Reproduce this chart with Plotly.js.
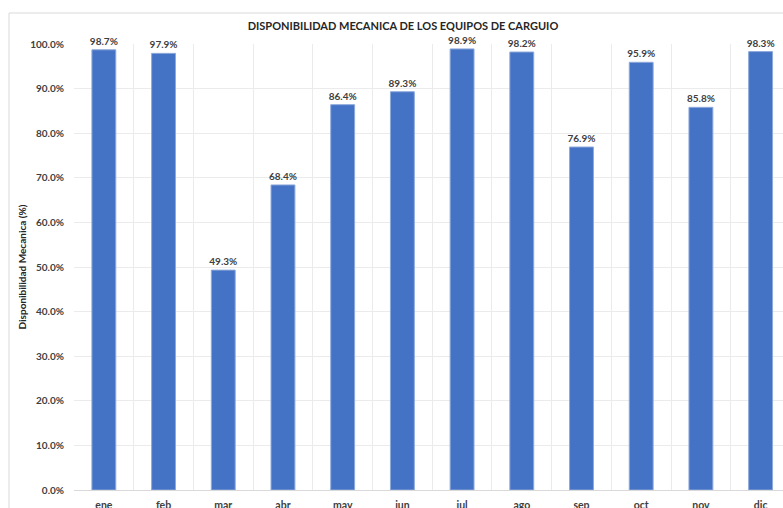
<!DOCTYPE html>
<html>
<head>
<meta charset="utf-8">
<script src="https://cdn.plot.ly/plotly-3.0.1.min.js"></script>
<style>
html,body{margin:0;padding:0;background:#fff;}
#chart{width:783px;height:508px;}
</style>
</head>
<body>
<div id="chart"></div>
<script>
const months = ["ene","feb","mar","abr","may","jun","jul","ago","sep","oct","nov","dic"];
const availabilityPct = [98.7, 97.9, 49.3, 68.4, 86.4, 89.3, 98.9, 98.2, 76.9, 95.9, 85.8, 98.3];
const yTickVals = [0,0.1,0.2,0.3,0.4,0.5,0.6,0.7,0.8,0.9,1.0];
const chartTitle = "DISPONIBILIDAD MECANICA DE LOS EQUIPOS DE CARGUIO";
const yTitle = "Disponibilidad Mecanica (%)";

const FONT = "Lato, 'Open Sans', sans-serif";
const trace = {
  type: "bar",
  x: months,
  y: availabilityPct.map(v => v / 100),
  width: 0.4,
  marker: {color: "#4472C4", line: {color: "#8EA9DB", width: 1}},
  texttemplate: "%{y:.1%}",
  textposition: "outside",
  constraintext: "none",
  textfont: {family: FONT, size: 10, color: "#404040", weight: "bold"},
  cliponaxis: false,
  hoverinfo: "skip"
};

const layout = {
  width: 783, height: 508,
  margin: {l: 74, r: 0, t: 44, b: 18, pad: 0},
  paper_bgcolor: "#fff", plot_bgcolor: "#fff",
  showlegend: false,
  font: {family: FONT, color: "#404040"},
  title: {
    text: "<b>" + chartTitle + "</b>",
    font: {family: FONT, size: 11, color: "#262626"},
    xref: "paper", x: 0.464, xanchor: "center",
    yref: "container", y: 0.949, yanchor: "middle"
  },
  xaxis: {
    type: "category",
    range: [-0.5, 11.375],
    tickson: "boundaries",
    showgrid: true, gridcolor: "#EBEBEB", gridwidth: 1,
    ticks: "", showline: false, zeroline: false,
    tickfont: {family: FONT, size: 10.5, color: "#404040", weight: "bold"},
    ticklabelstandoff: 7,
    fixedrange: true
  },
  yaxis: {
    range: [0, 1],
    tickvals: yTickVals,
    tickformat: ".1%",
    showgrid: true, gridcolor: "#EBEBEB", gridwidth: 1,
    zeroline: true, zerolinecolor: "#D9D9D9", zerolinewidth: 1,
    showline: false, ticks: "",
    tickfont: {family: FONT, size: 10, color: "#404040", weight: "bold"},
    ticklabelstandoff: 9,
    title: {text: "<b>" + yTitle + "</b>", font: {family: FONT, size: 10, color: "#262626"}, standoff: 1},
    fixedrange: true
  },
  bargap: 0.6,
  shapes: [
    {type: "line", xref: "paper", yref: "paper", x0: (9-74)/709, x1: 1.02, y0: (490-13)/446, y1: (490-13)/446, line: {color: "#D9D9D9", width: 1}},
    {type: "line", xref: "paper", yref: "paper", x0: (9-74)/709, x1: (9-74)/709, y0: (490-13)/446, y1: -0.1, line: {color: "#D9D9D9", width: 1}}
  ]
};

Plotly.newPlot("chart", [trace], layout, {displayModeBar: false, staticPlot: true});
</script>
</body>
</html>
